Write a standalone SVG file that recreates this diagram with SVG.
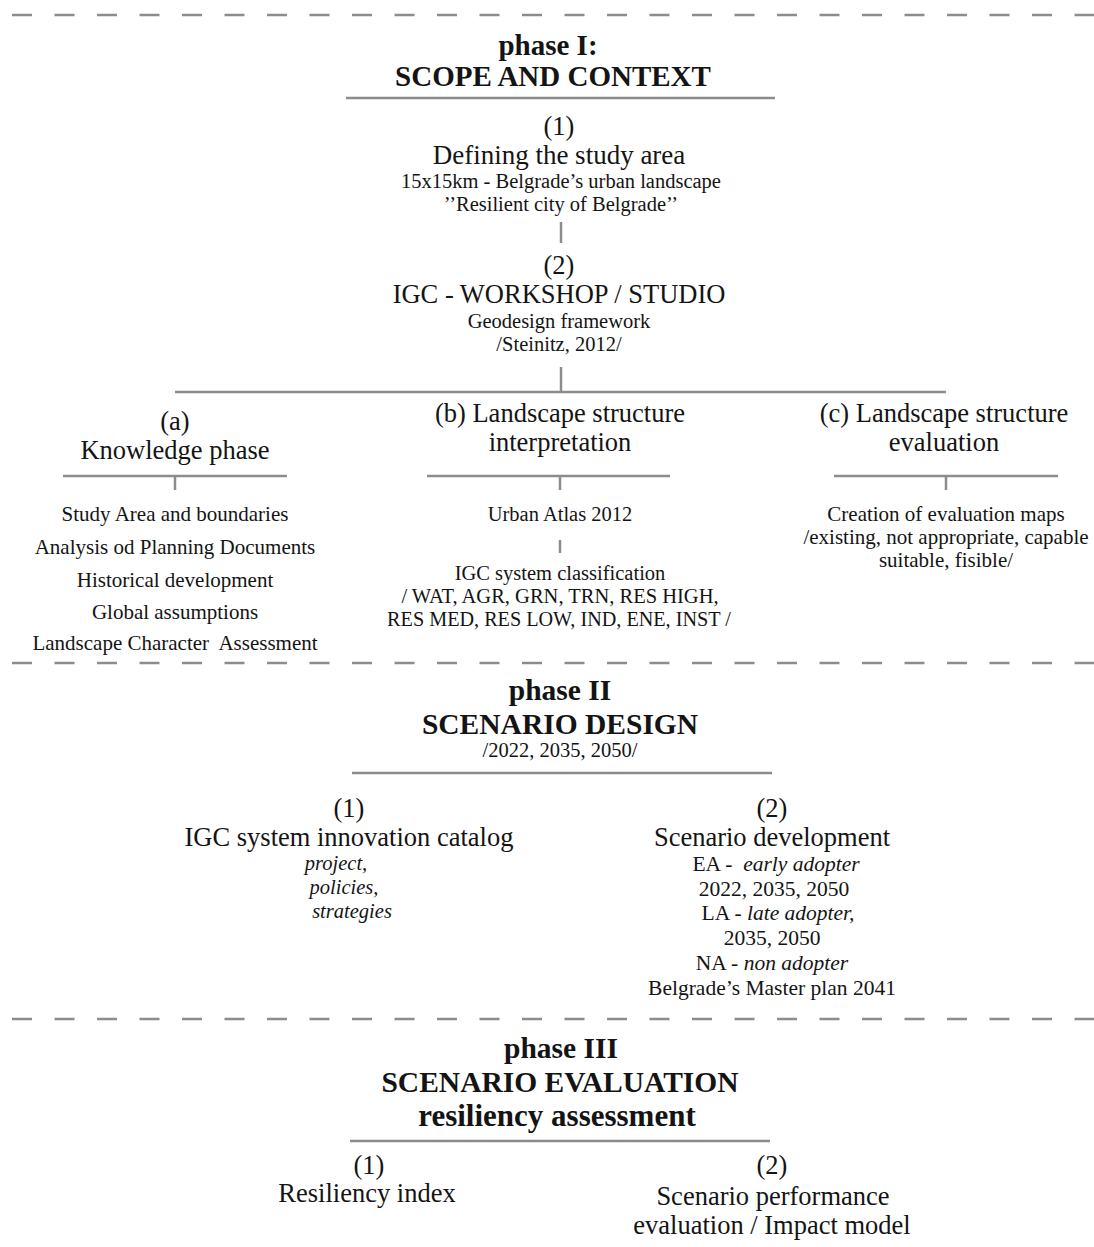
<svg xmlns="http://www.w3.org/2000/svg" width="1094" height="1247" viewBox="0 0 1094 1247">
<style>
text{font-family:"Liberation Serif","DejaVu Serif",serif;fill:#141414;text-anchor:middle}
.h{font-weight:bold;font-size:29px}
.h2{font-weight:bold;font-size:29.5px}
.m{font-size:26.5px}
.s{font-size:20.5px}
.sl{font-size:21px}
.s2{font-size:21.5px}
.i{font-style:italic}
.ln{stroke:#8c8c8c;stroke-width:2.5;fill:none}
.dash{stroke:#8c8c8c;stroke-width:2.5;stroke-dasharray:20 22.5;fill:none}
</style>
<rect width="1094" height="1247" fill="#fff"/>
<g id="separators">
<line class="dash" x1="12" y1="15" x2="1094" y2="15"/>
<line class="dash" x1="12" y1="663" x2="1094" y2="663"/>
<line class="dash" x1="12" y1="1019" x2="1094" y2="1019"/>
</g>
<g id="connectors">
<line class="ln" x1="346" y1="98" x2="775" y2="98"/>
<line class="ln" x1="561" y1="222" x2="561" y2="243"/>
<line class="ln" x1="561" y1="367" x2="561" y2="392"/>
<line class="ln" x1="175" y1="392" x2="946" y2="392"/>
<line class="ln" x1="63" y1="476" x2="287" y2="476"/>
<line class="ln" x1="175" y1="476" x2="175" y2="490"/>
<line class="ln" x1="427" y1="476" x2="670" y2="476"/>
<line class="ln" x1="560" y1="476" x2="560" y2="490"/>
<line class="ln" x1="834" y1="476" x2="1058" y2="476"/>
<line class="ln" x1="946" y1="476" x2="946" y2="490"/>
<line class="ln" x1="560" y1="540" x2="560" y2="553"/>
<line class="ln" x1="352" y1="773" x2="772" y2="773"/>
<line class="ln" x1="350" y1="1141" x2="770" y2="1141"/>
</g>
<g id="phase1">
<text class="h" x="548" y="55">phase I:</text>
<text class="h" x="553" y="86">SCOPE AND CONTEXT</text>
</g>
<g id="p1-1">
<text class="m" x="559" y="135">(1)</text>
<text class="m" x="559" y="164" style="font-size:27px">Defining the study area</text>
<text class="s" x="561" y="188">15x15km - Belgrade’s urban landscape</text>
<text class="s" x="561" y="211">’’Resilient city of Belgrade’’</text>
</g>
<g id="p1-2">
<text class="m" x="559" y="274">(2)</text>
<text class="m" x="559" y="303">IGC - WORKSHOP / STUDIO</text>
<text class="s" x="559" y="328">Geodesign framework</text>
<text class="s" x="559" y="351">/Steinitz, 2012/</text>
</g>
<g id="p1-a">
<text class="m" x="175" y="430">(a)</text>
<text class="m" x="175" y="459">Knowledge phase</text>
<text class="sl" x="175" y="521">Study Area and boundaries</text>
<text class="sl" x="175" y="554">Analysis od Planning Documents</text>
<text class="sl" x="175" y="587">Historical development</text>
<text class="sl" x="175" y="619">Global assumptions</text>
<text class="sl" x="175" y="650" xml:space="preserve">Landscape Character  Assessment</text>
</g>
<g id="p1-b">
<text class="m" x="560" y="422">(b) Landscape structure</text>
<text class="m" x="560" y="451">interpretation</text>
<text class="s" x="560" y="521">Urban Atlas 2012</text>
<text class="s" x="560" y="580">IGC system classification</text>
<text class="s" x="560" y="603">/ WAT, AGR, GRN, TRN, RES HIGH,</text>
<text class="s" x="559" y="626" style="font-size:20.2px">RES MED, RES LOW, IND, ENE, INST /</text>
</g>
<g id="p1-c">
<text class="m" x="944" y="422">(c) Landscape structure</text>
<text class="m" x="944" y="451">evaluation</text>
<text class="sl" x="946" y="521">Creation of evaluation maps</text>
<text class="sl" x="946" y="544">/existing, not appropriate, capable</text>
<text class="sl" x="946" y="567">suitable, fisible/</text>
</g>
<g id="phase2">
<text class="h2" x="560" y="700">phase II</text>
<text class="h2" x="560" y="734">SCENARIO DESIGN</text>
<text class="s" x="560" y="757">/2022, 2035, 2050/</text>
</g>
<g id="p2-1">
<text class="m" x="349" y="817">(1)</text>
<text class="m" x="349" y="846">IGC system innovation catalog</text>
<text class="s i" x="336" y="870">project,</text>
<text class="s i" x="344" y="894">policies,</text>
<text class="s i" x="352" y="918">strategies</text>
</g>
<g id="p2-2">
<text class="m" x="772" y="817">(2)</text>
<text class="m" x="772" y="846">Scenario development</text>
<text class="s2" x="776" y="871" xml:space="preserve">EA -  <tspan class="i">early adopter</tspan></text>
<text class="s2" x="774" y="896">2022, 2035, 2050</text>
<text class="s2" x="778" y="920">LA - <tspan class="i">late adopter,</tspan></text>
<text class="s2" x="772" y="945">2035, 2050</text>
<text class="s2" x="772" y="970">NA - <tspan class="i">non adopter</tspan></text>
<text class="s2" x="772" y="995">Belgrade’s Master plan 2041</text>
</g>
<g id="phase3">
<text class="h2" x="561" y="1058">phase III</text>
<text class="h2" x="560" y="1092">SCENARIO EVALUATION</text>
<text class="h2" x="557" y="1126" style="font-size:31px">resiliency assessment</text>
</g>
<g id="p3-1">
<text class="m" x="369" y="1174">(1)</text>
<text class="m" x="367" y="1202">Resiliency index</text>
</g>
<g id="p3-2">
<text class="m" x="772" y="1174">(2)</text>
<text class="m" x="773" y="1205">Scenario performance</text>
<text class="m" x="772" y="1234">evaluation / Impact model</text>
</g>
</svg>
